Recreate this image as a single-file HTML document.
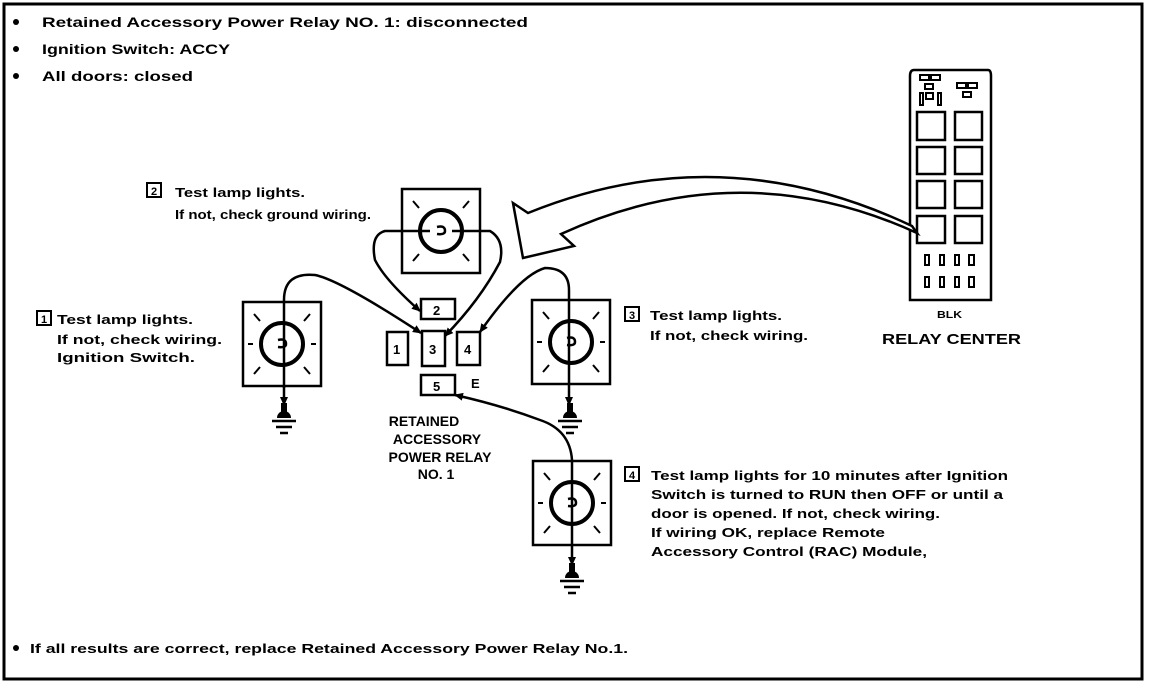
<!DOCTYPE html>
<html><head><meta charset="utf-8"><style>
html,body{margin:0;padding:0;background:#fff;}
svg{display:block;}
text{font-family:"Liberation Sans",sans-serif;font-weight:bold;fill:#000;}
</style></head><body>
<svg width="1152" height="694" viewBox="0 0 1152 694" xmlns="http://www.w3.org/2000/svg">
<defs>
<marker id="ar" markerWidth="10" markerHeight="10" refX="8" refY="5" orient="auto" markerUnits="userSpaceOnUse">
<path d="M0,1 L9,5 L0,9 Z" fill="#000"/>
</marker>
<g id="lamp">
<rect x="-39" y="-42" width="78" height="84" fill="#fff" stroke="#000" stroke-width="2.5"/>
<circle r="21" fill="none" stroke="#000" stroke-width="4"/>
<path d="M-28,-30 L-22,-23 M28,-30 L22,-23 M-28,30 L-22,23 M28,30 L22,23 M-34,0 L-29,0 M34,0 L29,0" stroke="#000" stroke-width="2"/>
<path d="M-4,-4 Q4,-6 4,0 Q4,4 -4,3" fill="none" stroke="#000" stroke-width="2.5"/>
</g>
<g id="gnd">
<path d="M-7,0 A7,7 0 0 1 7,0 Z" fill="#000"/>
<path d="M-12,3 L12,3 M-8,9 L8,9 M-4,15 L4,15" stroke="#000" stroke-width="2.5"/>
</g>
</defs>
<path d="M4,679 L4,4 L1142,4 L1142,679 Z" fill="none" stroke="#000" stroke-width="3"/>

<circle cx="16" cy="22" r="3" fill="#000"/>
<circle cx="16" cy="49" r="3" fill="#000"/>
<circle cx="16" cy="76" r="3" fill="#000"/>
<text x="42" y="27" font-size="14" textLength="486" lengthAdjust="spacingAndGlyphs">Retained Accessory Power Relay NO. 1: disconnected</text>
<text x="42" y="54" font-size="14" textLength="188" lengthAdjust="spacingAndGlyphs">Ignition Switch:  ACCY</text>
<text x="42" y="81" font-size="14" textLength="151" lengthAdjust="spacingAndGlyphs">All doors: closed</text>

<path d="M914,70 L988,70 Q991,70 991,76 L991,300 L910,300 L910,76 Q910,70 914,70 Z" fill="none" stroke="#000" stroke-width="2.5"/>
<g fill="none" stroke="#000" stroke-width="2">
<rect x="920" y="75" width="9" height="5"/><rect x="931" y="75" width="9" height="5"/><rect x="925" y="84" width="8" height="5"/>
<rect x="920" y="93" width="3" height="12"/><rect x="926" y="93" width="7" height="6"/><rect x="938" y="93" width="3" height="12"/>
<rect x="957" y="83" width="9" height="5"/><rect x="968" y="83" width="9" height="5"/><rect x="963" y="92" width="8" height="5"/>
</g>
<g fill="none" stroke="#000" stroke-width="2.5">
<rect x="917" y="112" width="28" height="28"/><rect x="955" y="112" width="27" height="28"/>
<rect x="917" y="147" width="28" height="27"/><rect x="955" y="147" width="27" height="27"/>
<rect x="917" y="181" width="28" height="27"/><rect x="955" y="181" width="27" height="27"/>
<rect x="917" y="216" width="28" height="27"/><rect x="955" y="216" width="27" height="27"/>
</g>
<g fill="none" stroke="#000" stroke-width="2">
<rect x="925" y="255" width="4" height="10"/><rect x="940" y="255" width="4" height="10"/><rect x="955" y="255" width="4" height="10"/><rect x="969" y="255" width="5" height="10"/>
<rect x="925" y="277" width="4" height="10"/><rect x="940" y="277" width="4" height="10"/><rect x="955" y="277" width="4" height="10"/><rect x="969" y="277" width="5" height="10"/>
</g>
<text x="937" y="318" font-size="10" textLength="25" lengthAdjust="spacingAndGlyphs">BLK</text>
<text x="882" y="344" font-size="15" textLength="139" lengthAdjust="spacingAndGlyphs">RELAY CENTER</text>

<path d="M513,203 L528,213 Q720,135 912,226 L917,233 Q740,152 561,234 L574,246 L523,258 Z" fill="#fff" stroke="#000" stroke-width="2.5"/>

<g fill="#fff" stroke="#000" stroke-width="2.5">
<rect x="421" y="299" width="34" height="20"/>
<rect x="387" y="332" width="21" height="33"/>
<rect x="422" y="331" width="23" height="35"/>
<rect x="457" y="332" width="23" height="33"/>
<rect x="421" y="375" width="34" height="20"/>
</g>
<text x="433" y="315" font-size="13">2</text>
<text x="393" y="354" font-size="13">1</text>
<text x="429" y="354" font-size="13">3</text>
<text x="464" y="354" font-size="13">4</text>
<text x="433" y="391" font-size="13">5</text>
<text x="471" y="388" font-size="13">E</text>
<g font-size="14" text-anchor="middle">
<text x="424" y="426">RETAINED</text>
<text x="437" y="444">ACCESSORY</text>
<text x="440" y="462">POWER RELAY</text>
<text x="436" y="479">NO. 1</text>
</g>

<use href="#lamp" x="282" y="344"/>
<use href="#lamp" x="441" y="231"/>
<use href="#lamp" x="571" y="342"/>
<use href="#lamp" x="572" y="503"/>

<g fill="none" stroke="#000" stroke-width="2.5">
<path d="M284,388 L284,300 Q284,272 315,275 Q340,280 421,333" marker-end="url(#ar)"/>
<path d="M430,231 Q420,231 385,231 Q370,235 375,260 Q385,280 420,311" marker-end="url(#ar)"/>
<path d="M452,231 L490,231 Q505,240 500,262 Q480,300 445,336" marker-end="url(#ar)"/>
<path d="M569,384 L569,290 Q569,268 545,268 Q520,275 480,332" marker-end="url(#ar)"/>
<path d="M572,545 L572,460 Q570,430 540,420 Q500,405 455,395" marker-end="url(#ar)"/>
<path d="M284,386 L284,405" marker-end="url(#ar)"/>
<path d="M569,384 L569,405" marker-end="url(#ar)"/>
<path d="M572,545 L572,565" marker-end="url(#ar)"/>
</g>
<use href="#gnd" x="284" y="418"/>
<use href="#gnd" x="570" y="418"/>
<use href="#gnd" x="572" y="578"/>
<path d="M281,403 L287,403 L287,412 L281,412 Z M567,403 L573,403 L573,412 L567,412 Z M569,563 L575,563 L575,572 L569,572 Z" fill="#000"/>

<g fill="none" stroke="#000" stroke-width="2">
<rect x="147" y="183" width="14" height="14"/>
<rect x="37" y="311" width="14" height="14"/>
<rect x="625" y="307" width="14" height="14"/>
<rect x="625" y="467" width="14" height="14"/>
</g>
<text x="151" y="195" font-size="11">2</text>
<text x="41" y="323" font-size="11">1</text>
<text x="629" y="319" font-size="11">3</text>
<text x="629" y="479" font-size="11">4</text>

<text x="175" y="197" font-size="13" textLength="130" lengthAdjust="spacingAndGlyphs">Test lamp lights.</text>
<text x="175" y="219" font-size="13" textLength="196" lengthAdjust="spacingAndGlyphs">If not, check ground wiring.</text>

<text x="57" y="324" font-size="13" textLength="136" lengthAdjust="spacingAndGlyphs">Test lamp lights.</text>
<text x="57" y="344" font-size="13" textLength="165" lengthAdjust="spacingAndGlyphs">If not, check wiring.</text>
<text x="57" y="362" font-size="13" textLength="138" lengthAdjust="spacingAndGlyphs">Ignition Switch.</text>

<text x="650" y="320" font-size="13" textLength="132" lengthAdjust="spacingAndGlyphs">Test lamp lights.</text>
<text x="650" y="340" font-size="13" textLength="158" lengthAdjust="spacingAndGlyphs">If not, check wiring.</text>

<text x="651" y="480" font-size="13" textLength="357" lengthAdjust="spacingAndGlyphs">Test lamp lights for 10 minutes after Ignition</text>
<text x="651" y="499" font-size="13" textLength="352" lengthAdjust="spacingAndGlyphs">Switch is turned to RUN then OFF or until a</text>
<text x="651" y="518" font-size="13" textLength="289" lengthAdjust="spacingAndGlyphs">door is opened. If not, check wiring.</text>
<text x="651" y="537" font-size="13" textLength="234" lengthAdjust="spacingAndGlyphs">If wiring OK, replace Remote</text>
<text x="651" y="556" font-size="13" textLength="276" lengthAdjust="spacingAndGlyphs">Accessory Control (RAC) Module,</text>

<circle cx="16" cy="648" r="3" fill="#000"/>
<text x="30" y="653" font-size="13" textLength="598" lengthAdjust="spacingAndGlyphs">If all results are correct, replace Retained Accessory Power Relay No.1.</text>
</svg>
</body></html>
